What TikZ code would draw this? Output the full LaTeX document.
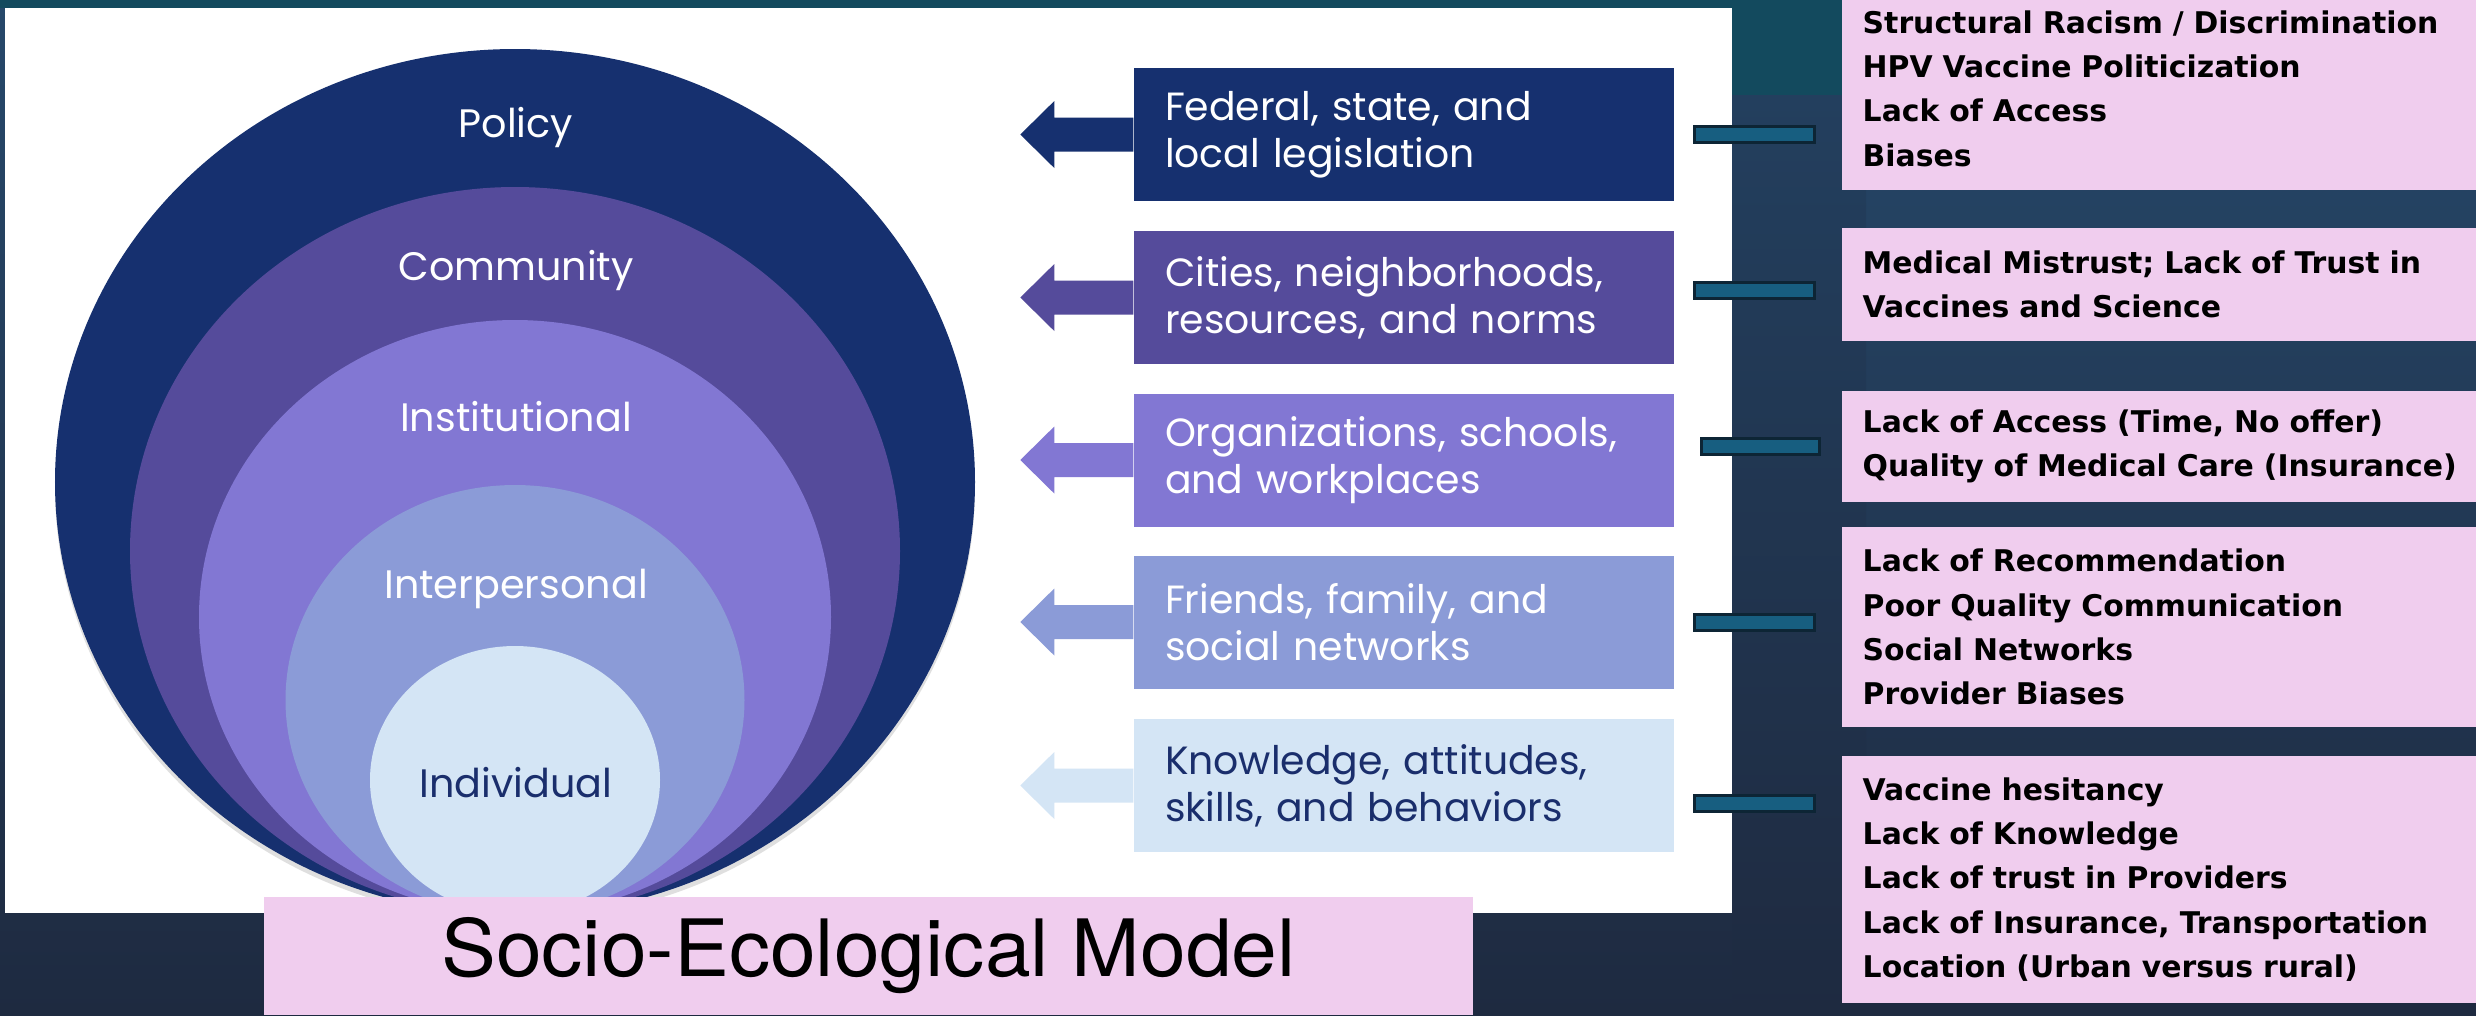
\documentclass[tikz,border=0pt]{standalone}
\usepackage{fontspec}
\usepackage{tikz}
\usetikzlibrary{shapes,shadows,calc}
\newfontfamily\popfont{Poppins}
\newfontfamily\barrierfont{DejaVu Sans}[BoldFont={DejaVu Sans Bold}]
\newfontfamily\titlefont{texgyreheros-regular.otf}[FakeStretch=1.04]
\definecolor{policyc}{HTML}{16306F}
\definecolor{communityc}{HTML}{554B9B}
\definecolor{institutionc}{HTML}{8277D3}
\definecolor{interc}{HTML}{8B9BD7}
\definecolor{indivc}{HTML}{D4E5F5}
\definecolor{indivtext}{HTML}{1A2E6C}
\definecolor{barrierc}{HTML}{F0CDEE}
\definecolor{barteal}{HTML}{175E80}
\definecolor{bardark}{HTML}{0D2535}
\definecolor{bgteal}{HTML}{134A5E}
\definecolor{bgtop}{HTML}{26486A}
\definecolor{bgbot}{HTML}{1E2A40}
\definecolor{coltop}{HTML}{233F5E}
\pgfdeclarelayer{backlayer}
\pgfdeclarelayer{ringlayer}
\pgfsetlayers{backlayer,ringlayer,main}
\tikzstyle{ring}=[ellipse, inner sep=0, draw=none]
\tikzstyle{ringlabel}=[inner sep=0, text=white, font=\popfont\fontsize{11.3}{13}\selectfont]
\tikzstyle{levelbox}=[rectangle, minimum width=5.40cm, minimum height=1.33cm, text width=4.78cm, inner xsep=0.31cm, inner ysep=0.05cm, align=left, text=white, font=\popfont\fontsize{11.2}{13.4}\selectfont]
\tikzstyle{barrier}=[rectangle, anchor=west, fill=barrierc, minimum width=6.35cm, text width=6.3cm, inner xsep=0.21cm, inner ysep=0, align=left, font=\barrierfont\bfseries\fontsize{8.5}{12.6}\selectfont]
\tikzstyle{linkbar}=[draw=bardark, double=barteal, double distance=0.13cm, line width=0.03cm, line cap=rect]
\tikzstyle{titlebox}=[rectangle, fill=barrierc, minimum width=12.09cm, minimum height=1.18cm, font=\titlefont\fontsize{22.5}{26}\selectfont]

\begin{document}
\begin{tikzpicture}[x=1cm, y=-1cm]
    \useasboundingbox (0,0) rectangle (24.76,10.15);
    \begin{pgfonlayer}{backlayer}
        \shade [top color=bgtop, bottom color=bgbot] (0,0) rectangle (24.76,10.15);
        \fill [bgteal] (0,0) rectangle (24.76,0.08);
        \fill [bgteal] (17.32,0) rectangle (24.76,0.95);
        \shade [top color=coltop, bottom color=bgbot] (17.32,0.95) rectangle (18.66,10.15);
        \fill [white] (0.05,0.08) rectangle (17.32,9.13);
    \end{pgfonlayer}

    % nested levels
    \begin{pgfonlayer}{ringlayer}
        \node [ring, fill=policyc, minimum width=9.20cm, minimum height=8.66cm, drop shadow={opacity=0.25, shadow xshift=0cm, shadow yshift=-0.05cm}] (policyring) at (5.15,4.82) {};
        \node [ring, fill=communityc, minimum width=7.70cm, minimum height=7.28cm] (communityring) at (5.15,5.51) {};
        \node [ring, fill=institutionc, minimum width=6.32cm, minimum height=5.94cm] (institutionring) at (5.15,6.17) {};
        \node [ring, fill=interc, minimum width=4.59cm, minimum height=4.30cm] (interring) at (5.15,7.00) {};
        \node [ring, fill=indivc, minimum width=2.90cm, minimum height=2.68cm] (indivring) at (5.15,7.80) {};
    \end{pgfonlayer}
    \node [ringlabel] (policy) at (5.16,1.27) {Policy};
    \node [ringlabel] (community) at (5.16,2.70) {Community};
    \node [ringlabel] (institutional) at (5.16,4.17) {Institutional};
    \node [ringlabel] (interpersonal) at (5.16,5.89) {Interpersonal};
    \node [ringlabel, text=indivtext] (individual) at (5.16,7.83) {Individual};

    % level descriptions
    \node [levelbox, fill=policyc] (fed) at (14.04,1.345) {Federal, state, and\\local legislation};
    \node [levelbox, fill=communityc] (city) at (14.04,2.975) {Cities, neighborhoods,\\resources, and norms};
    \node [levelbox, fill=institutionc] (org) at (14.04,4.60) {Organizations, schools,\\and workplaces};
    \node [levelbox, fill=interc] (friends) at (14.04,6.22) {Friends, family, and\\social networks};
    \node [levelbox, fill=indivc, text=indivtext] (know) at (14.04,7.855) {Knowledge, attitudes,\\skills, and behaviors};

    \fill [policyc] (fed.west) ++(0,0.17) -- ++(-0.79,0) -- ++(0,0.165) -- ++(-0.34,-0.335) -- ++(0.34,-0.335) -- ++(0,0.165) -- ++(0.79,0) -- cycle;
    \fill [communityc] (city.west) ++(0,0.17) -- ++(-0.79,0) -- ++(0,0.165) -- ++(-0.34,-0.335) -- ++(0.34,-0.335) -- ++(0,0.165) -- ++(0.79,0) -- cycle;
    \fill [institutionc] (org.west) ++(0,0.17) -- ++(-0.79,0) -- ++(0,0.165) -- ++(-0.34,-0.335) -- ++(0.34,-0.335) -- ++(0,0.165) -- ++(0.79,0) -- cycle;
    \fill [interc] (friends.west) ++(0,0.17) -- ++(-0.79,0) -- ++(0,0.165) -- ++(-0.34,-0.335) -- ++(0.34,-0.335) -- ++(0,0.165) -- ++(0.79,0) -- cycle;
    \fill [indivc] (know.west) ++(0,0.17) -- ++(-0.79,0) -- ++(0,0.165) -- ++(-0.34,-0.335) -- ++(0.34,-0.335) -- ++(0,0.165) -- ++(0.79,0) -- cycle;

    % barriers
    \node [barrier, minimum height=2.03cm] (racism) at (18.41,0.885) {Structural Racism / Discrimination\\HPV Vaccine Politicization\\Lack of Access\\Biases};
    \node [barrier, minimum height=1.13cm] (mistrust) at (18.41,2.845) {Medical Mistrust; Lack of Trust in\\Vaccines and Science};
    \node [barrier, minimum height=1.11cm] (access) at (18.41,4.465) {Lack of Access (Time, No offer)\\Quality of Medical Care (Insurance)};
    \node [barrier, minimum height=2.00cm] (recommend) at (18.41,6.27) {Lack of Recommendation\\Poor Quality Communication\\Social Networks\\Provider Biases};
    \node [barrier, minimum height=2.47cm] (hesitancy) at (18.41,8.795) {Vaccine hesitancy\\Lack of Knowledge\\Lack of trust in Providers\\Lack of Insurance, Transportation\\Location (Urban versus rural)};

    \draw [linkbar] ([xshift=0.275cm]fed.east) -- ([xshift=-0.345cm]fed.east -| racism.west);
    \draw [linkbar] ([xshift=0.275cm, yshift=0.075cm]city.east) -- ([xshift=-0.345cm, yshift=0.075cm]city.east -| mistrust.west);
    \draw [linkbar] ([xshift=0.345cm, yshift=0.14cm]org.east) -- ([xshift=-0.295cm, yshift=0.14cm]org.east -| access.west);
    \draw [linkbar] ([xshift=0.275cm]friends.east) -- ([xshift=-0.345cm]friends.east -| recommend.west);
    \draw [linkbar] ([xshift=0.275cm, yshift=-0.175cm]know.east) -- ([xshift=-0.345cm, yshift=-0.175cm]know.east -| hesitancy.west);

    \node [titlebox] (sem) at (8.685,9.56) {Socio-Ecological Model};
\end{tikzpicture}
\end{document}
